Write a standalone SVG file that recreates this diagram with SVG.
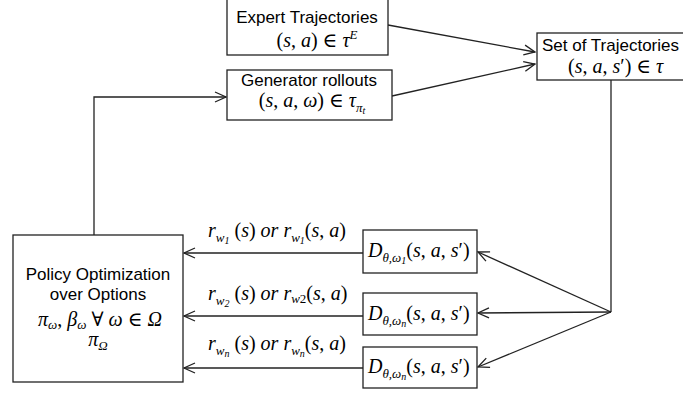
<svg xmlns="http://www.w3.org/2000/svg" width="683" height="395" viewBox="0 0 683 395">
<style>
.box{fill:#fff;stroke:#222;stroke-width:1.3}
.lbl{font-family:"Liberation Sans",Arial,sans-serif;font-size:17px;fill:#000}
.m{font-family:"Liberation Serif","DejaVu Serif",serif;font-style:italic;font-size:20px;fill:#000}
.u{font-style:normal}
.s{font-size:13px}
.ss{font-size:10px}
.c{fill:none;stroke:#222;stroke-width:1.3}
</style>
<defs>
<marker id="ah" markerWidth="14" markerHeight="12" refX="12" refY="6" orient="auto" markerUnits="userSpaceOnUse">
<path d="M1,1 L12,6 L1,11" fill="none" stroke="#222" stroke-width="1.3"/>
</marker>
</defs>
<g id="connectors">
<path class="c" d="M388,25 L535,52" marker-end="url(#ah)"/>
<path class="c" d="M392,96 L535,64" marker-end="url(#ah)"/>
<path class="c" d="M94,235 L94,97 L226,97" marker-end="url(#ah)"/>
<path class="c" d="M611,80 L611,312"/>
<path class="c" d="M611,312 L478,252" marker-end="url(#ah)"/>
<path class="c" d="M611,312 L478,313" marker-end="url(#ah)"/>
<path class="c" d="M611,312 L478,367" marker-end="url(#ah)"/>
<path class="c" d="M363,253 L184,253" marker-end="url(#ah)"/>
<path class="c" d="M363,316 L184,316" marker-end="url(#ah)"/>
<path class="c" d="M363,368 L184,368" marker-end="url(#ah)"/>
<text class="m" x="208" y="237">r<tspan class="s" dy="5">w</tspan><tspan class="ss" dy="2">1</tspan><tspan dy="-7" class="u"> (</tspan>s<tspan class="u">) </tspan>or r<tspan class="s" dy="5">w</tspan><tspan class="ss" dy="2">1</tspan><tspan dy="-7" class="u">(</tspan>s<tspan class="u">, </tspan>a<tspan class="u">)</tspan></text>
<text class="m" x="208" y="300">r<tspan class="s" dy="5">w</tspan><tspan class="ss" dy="2">2</tspan><tspan dy="-7" class="u"> (</tspan>s<tspan class="u">) </tspan>or r<tspan class="s" dy="3">w</tspan><tspan class="s u">2</tspan><tspan dy="-3" class="u">(</tspan>s<tspan class="u">, </tspan>a<tspan class="u">)</tspan></text>
<text class="m" x="208" y="350">r<tspan class="s" dy="5">w</tspan><tspan class="ss" dy="2">n</tspan><tspan dy="-7" class="u"> (</tspan>s<tspan class="u">) </tspan>or r<tspan class="s" dy="5">w</tspan><tspan class="ss" dy="2">n</tspan><tspan dy="-7" class="u">(</tspan>s<tspan class="u">, </tspan>a<tspan class="u">)</tspan></text>
</g>
<g id="expert">
<rect class="box" x="227" y="-2" width="161" height="57"/>
<text class="lbl" x="307" y="23" text-anchor="middle">Expert Trajectories</text>
<text class="m" x="317" y="47" text-anchor="middle"><tspan class="u">(</tspan>s<tspan class="u">, </tspan>a<tspan class="u">)  ∈ </tspan>τ<tspan class="s" dy="-8">E</tspan></text>
</g>
<g id="generator">
<rect class="box" x="227" y="70" width="165" height="50"/>
<text class="lbl" x="309" y="86" text-anchor="middle">Generator rollouts</text>
<text class="m" x="312" y="107" text-anchor="middle"><tspan class="u">(</tspan>s<tspan class="u">, </tspan>a<tspan class="u">, </tspan>ω<tspan class="u">) ∈ </tspan>τ<tspan class="s" dy="5">π</tspan><tspan class="ss" dy="2">t</tspan></text>
</g>
<g id="set">
<rect class="box" x="537" y="33" width="160" height="47"/>
<text class="lbl" x="542" y="51">Set of Trajectories</text>
<text class="m" x="568" y="73"><tspan class="u">(</tspan>s<tspan class="u">, </tspan>a<tspan class="u">, </tspan>s<tspan class="u">′)  ∈ </tspan>τ</text>
</g>
<g id="policy">
<rect class="box" x="13" y="235" width="170" height="147"/>
<text class="lbl" x="98" y="280" text-anchor="middle">Policy Optimization</text>
<text class="lbl" x="98" y="300" text-anchor="middle">over Options</text>
<text class="m" x="100" y="326" text-anchor="middle">π<tspan class="s" dy="3">ω</tspan><tspan class="u" dy="-3">, </tspan>β<tspan class="s" dy="3">ω</tspan><tspan class="u" dy="-3"> ∀ </tspan>ω<tspan class="u"> ∈ </tspan>Ω</text>
<text class="m" x="98" y="346" text-anchor="middle">π<tspan class="s" dy="4">Ω</tspan></text>
</g>
<g id="d1">
<rect class="box" x="363" y="230" width="114" height="43"/>
<text class="m" x="368" y="257">D<tspan class="s" dy="5">θ,ω</tspan><tspan class="ss" dy="2">1</tspan><tspan class="u" dy="-7">(</tspan>s<tspan class="u">, </tspan>a<tspan class="u">, </tspan>s<tspan class="u">′)</tspan></text>
</g>
<g id="d2">
<rect class="box" x="363" y="293" width="114" height="42"/>
<text class="m" x="368" y="320">D<tspan class="s" dy="5">θ,ω</tspan><tspan class="ss" dy="2">n</tspan><tspan class="u" dy="-7">(</tspan>s<tspan class="u">, </tspan>a<tspan class="u">, </tspan>s<tspan class="u">′)</tspan></text>
</g>
<g id="d3">
<rect class="box" x="363" y="347" width="114" height="41"/>
<text class="m" x="368" y="373">D<tspan class="s" dy="5">θ,ω</tspan><tspan class="ss" dy="2">n</tspan><tspan class="u" dy="-7">(</tspan>s<tspan class="u">, </tspan>a<tspan class="u">, </tspan>s<tspan class="u">′)</tspan></text>
</g>
</svg>
